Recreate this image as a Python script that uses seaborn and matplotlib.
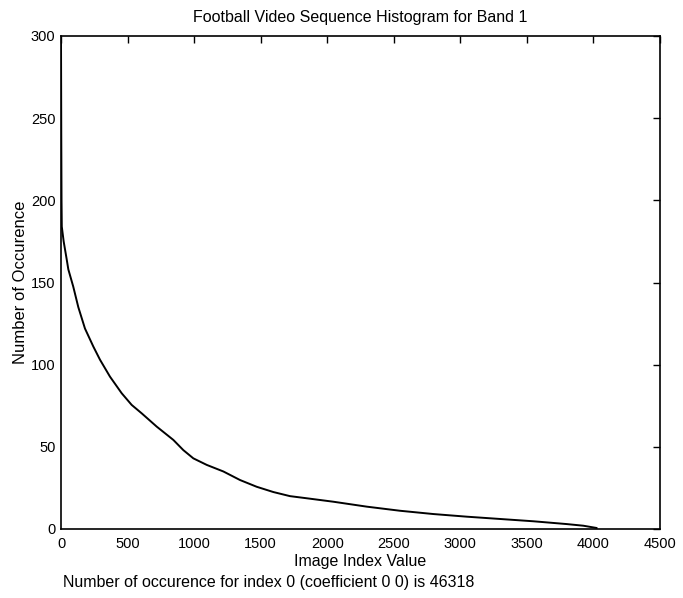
import matplotlib
matplotlib.use("Agg")
import matplotlib.pyplot as plt
import seaborn as sns
import pandas as pd

index_values = [0, 2, 4, 6, 20, 43, 55, 92, 130, 180, 243, 293, 368, 456, 531, 606, 719,
                844, 919, 994, 1095, 1220, 1345, 1470, 1595, 1720, 1846, 2046, 2297,
                2547, 2798, 3048, 3298, 3549, 3799, 3924, 4025]
occurrences = [300, 240, 200, 184, 175, 164, 158, 147.5, 135, 122, 111, 103, 92.7, 82.6,
               75.5, 70.4, 62.3, 54.2, 48, 43, 39, 35, 29.8, 25.7, 22.5, 20, 18.7, 16.6,
               13.6, 11.1, 9.1, 7.5, 6.1, 4.7, 3.0, 2.0, 0.6]
x_ticks = [0, 500, 1000, 1500, 2000, 2500, 3000, 3500, 4000, 4500]
y_ticks = [0, 50, 100, 150, 200, 250, 300]

sns.set_theme(style="white")
plt.rcParams['font.family'] = ['Liberation Sans', 'DejaVu Sans']

df = pd.DataFrame({"x": index_values, "y": occurrences})

fig = plt.figure(figsize=(6.83, 5.98), dpi=100)
ax = fig.add_axes([61/683, 1-529/598, (660-61)/683, (529-36)/598])
sns.lineplot(data=df, x="x", y="y", ax=ax, color="black", linewidth=1.4)

ax.set_xlim(0, 4500)
ax.set_ylim(0, 300)
ax.set_xticks(x_ticks)
ax.set_yticks(y_ticks)
ax.tick_params(direction="in", length=5, width=1, top=True, right=True,
               labelsize=10.5, colors="black", pad=4)
ax.tick_params(axis="x", pad=6)
for s in ax.spines.values():
    s.set_color("black")
    s.set_linewidth(1.2)
    s.set_visible(True)

ax.set_title("Football Video Sequence Histogram for Band 1", fontsize=11.5, pad=10, color="black")
ax.set_xlabel("Image Index Value", fontsize=11.5, labelpad=2, color="black")
ax.set_ylabel("Number of Occurence", fontsize=12, labelpad=2, color="black")
fig.text(63/683, 1-583/598, "Number of occurence for index 0 (coefficient 0 0) is 46318",
         fontsize=11.5, va="center", ha="left", color="black")

fig.savefig("out.png", dpi=100)
